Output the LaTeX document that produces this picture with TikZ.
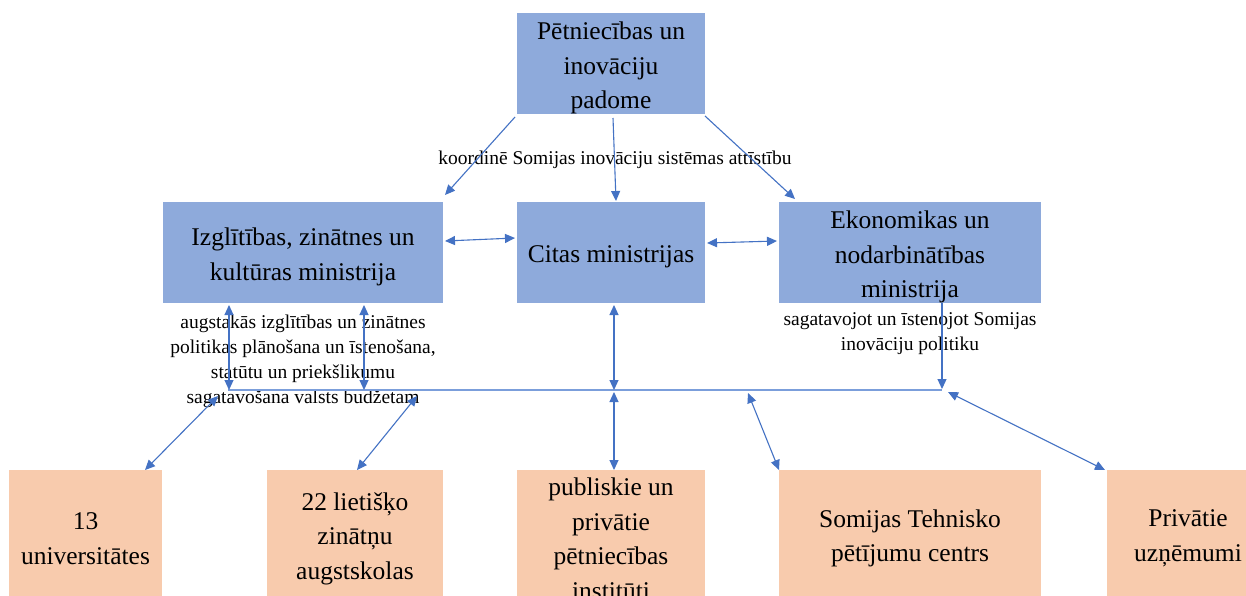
\documentclass[tikz,border=0pt]{standalone}
\usepackage{fontspec}
\setmainfont{Liberation Serif}
\usetikzlibrary{arrows.meta}
\definecolor{boxblue}{HTML}{8EAADB}
\definecolor{boxorange}{HTML}{F8CBAD}
\definecolor{arrowblue}{HTML}{4472C4}
\definecolor{buslight}{HTML}{7B9EDB}
\begin{document}
\begin{tikzpicture}[x=1pt,y=-1pt,
  bluebox/.style={fill=boxblue, draw=none, inner sep=0pt, minimum height=101pt},
  orangebox/.style={fill=boxorange, draw=none, inner sep=0pt, minimum height=134pt},
  boxtext/.style={align=center, inner sep=0pt, font=\fontsize{25.5}{34.5}\selectfont},
  lbl/.style={align=center, inner sep=0pt, font=\fontsize{19.5}{25}\selectfont},
  conn/.style={draw=arrowblue, line width=1.1pt},
  onehead/.style={-{Triangle[length=10pt,width=9pt]}},
  twohead/.style={{Triangle[length=10pt,width=9pt]}-{Triangle[length=10pt,width=9pt]}},
  busline/.style={draw=buslight, line width=1.1pt}
]
\useasboundingbox (0,0) rectangle (1246,595);
\clip (0,0) rectangle (1246,595);
\fill[white] (0,0) rectangle (1246,595);

% blue boxes
\node[bluebox, minimum width=188pt] (pip) at (611,63.5) {};
\node[bluebox, minimum width=280pt] (izm) at (303,252.5) {};
\node[bluebox, minimum width=188pt] (cit) at (611,252.5) {};
\node[bluebox, minimum width=262pt] (ekm) at (910,252.5) {};
\node[boxtext, yshift=-4.5pt] (pipt) at (pip) {Pētniecības un\\inovāciju\\padome};
\node[boxtext, yshift=-4.5pt] (izmt) at (izm) {Izglītības, zinātnes un\\kultūras ministrija};
\node[boxtext, yshift=-4.5pt] (citt) at (cit) {Citas ministrijas};
\node[boxtext, yshift=-4.5pt] (ekmt) at (ekm) {Ekonomikas un\\nodarbinātības\\ministrija};

% orange boxes
\node[orangebox, minimum width=153pt] (uni) at (85.5,537) {};
\node[orangebox, minimum width=176pt] (las) at (355,537) {};
\node[orangebox, minimum width=188pt] (ppi) at (611,537) {};
\node[orangebox, minimum width=262pt] (stc) at (910,537) {};
\node[orangebox, minimum width=162pt] (pu) at (1188,537) {};
\node[boxtext, yshift=-1.5pt] (unit) at (uni) {13\\universitātes};
\node[boxtext, yshift=-1.5pt] (last) at (las) {22 lietišķo\\zinātņu\\augstskolas};
\node[boxtext, yshift=-2pt] (ppit) at (ppi) {publiskie un\\privātie\\pētniecības\\institūti};
\node[boxtext, yshift=-1.5pt] (stct) at (stc) {Somijas Tehnisko\\pētījumu centrs};
\node[boxtext, yshift=-1.5pt] (put) at (pu) {Privātie\\uzņēmumi};

% labels
\node[lbl] (l1) at (615,160) {koordinē Somijas inovāciju sistēmas attīstību};
\node[lbl] (l2) at (303,361) {augstakās izglītības un zinātnes\\politikas plānošana un īstenošana,\\statūtu un priekšlikumu\\sagatavošana valsts budžetam};
\node[lbl] (l3) at (910,334) {sagatavojot un īstenojot Somijas\\inovāciju politiku};

% coordinates
\coordinate (a1s) at (515,117); \coordinate (a1e) at (445,195);
\coordinate (a2s) at (613,118); \coordinate (a2e) at (616,201);
\coordinate (a3s) at (705,116); \coordinate (a3e) at (795,199);
\coordinate (h1a) at (445,241); \coordinate (h1b) at (515,238);
\coordinate (h2a) at (707,243); \coordinate (h2b) at (777,241);
\coordinate (v1a) at (229,305); \coordinate (v1b) at (229,390);
\coordinate (v2a) at (364,305); \coordinate (v2b) at (364,390);
\coordinate (v3a) at (614,305); \coordinate (v3b) at (614,390);
\coordinate (v4a) at (614,392); \coordinate (v4b) at (614,470);
\coordinate (v5a) at (942,303); \coordinate (v5b) at (942,389);
\coordinate (busL) at (228,390); \coordinate (busR) at (942,390);
\coordinate (d1a) at (218,396); \coordinate (d1b) at (145,470);
\coordinate (d2a) at (417,396); \coordinate (d2b) at (357,470);
\coordinate (d4a) at (748,393); \coordinate (d4b) at (779,470);
\coordinate (d5a) at (948,392); \coordinate (d5b) at (1105,470);

% connectors
\draw[busline] (busL) -- (busR);
\draw[conn, onehead] (a1s) -- (a1e);
\draw[conn, onehead] (a2s) -- (a2e);
\draw[conn, onehead] (a3s) -- (a3e);
\draw[conn, twohead] (h1a) -- (h1b);
\draw[conn, twohead] (h2a) -- (h2b);
\draw[conn, twohead] (v1a) -- (v1b);
\draw[conn, twohead] (v2a) -- (v2b);
\draw[conn, twohead] (v3a) -- (v3b);
\draw[conn, twohead] (v4a) -- (v4b);
\draw[conn, onehead] (v5a) -- (v5b);
\draw[conn, twohead] (d1a) -- (d1b);
\draw[conn, twohead] (d2a) -- (d2b);
\draw[conn, twohead] (d4a) -- (d4b);
\draw[conn, twohead] (d5a) -- (d5b);
\end{tikzpicture}
\end{document}
